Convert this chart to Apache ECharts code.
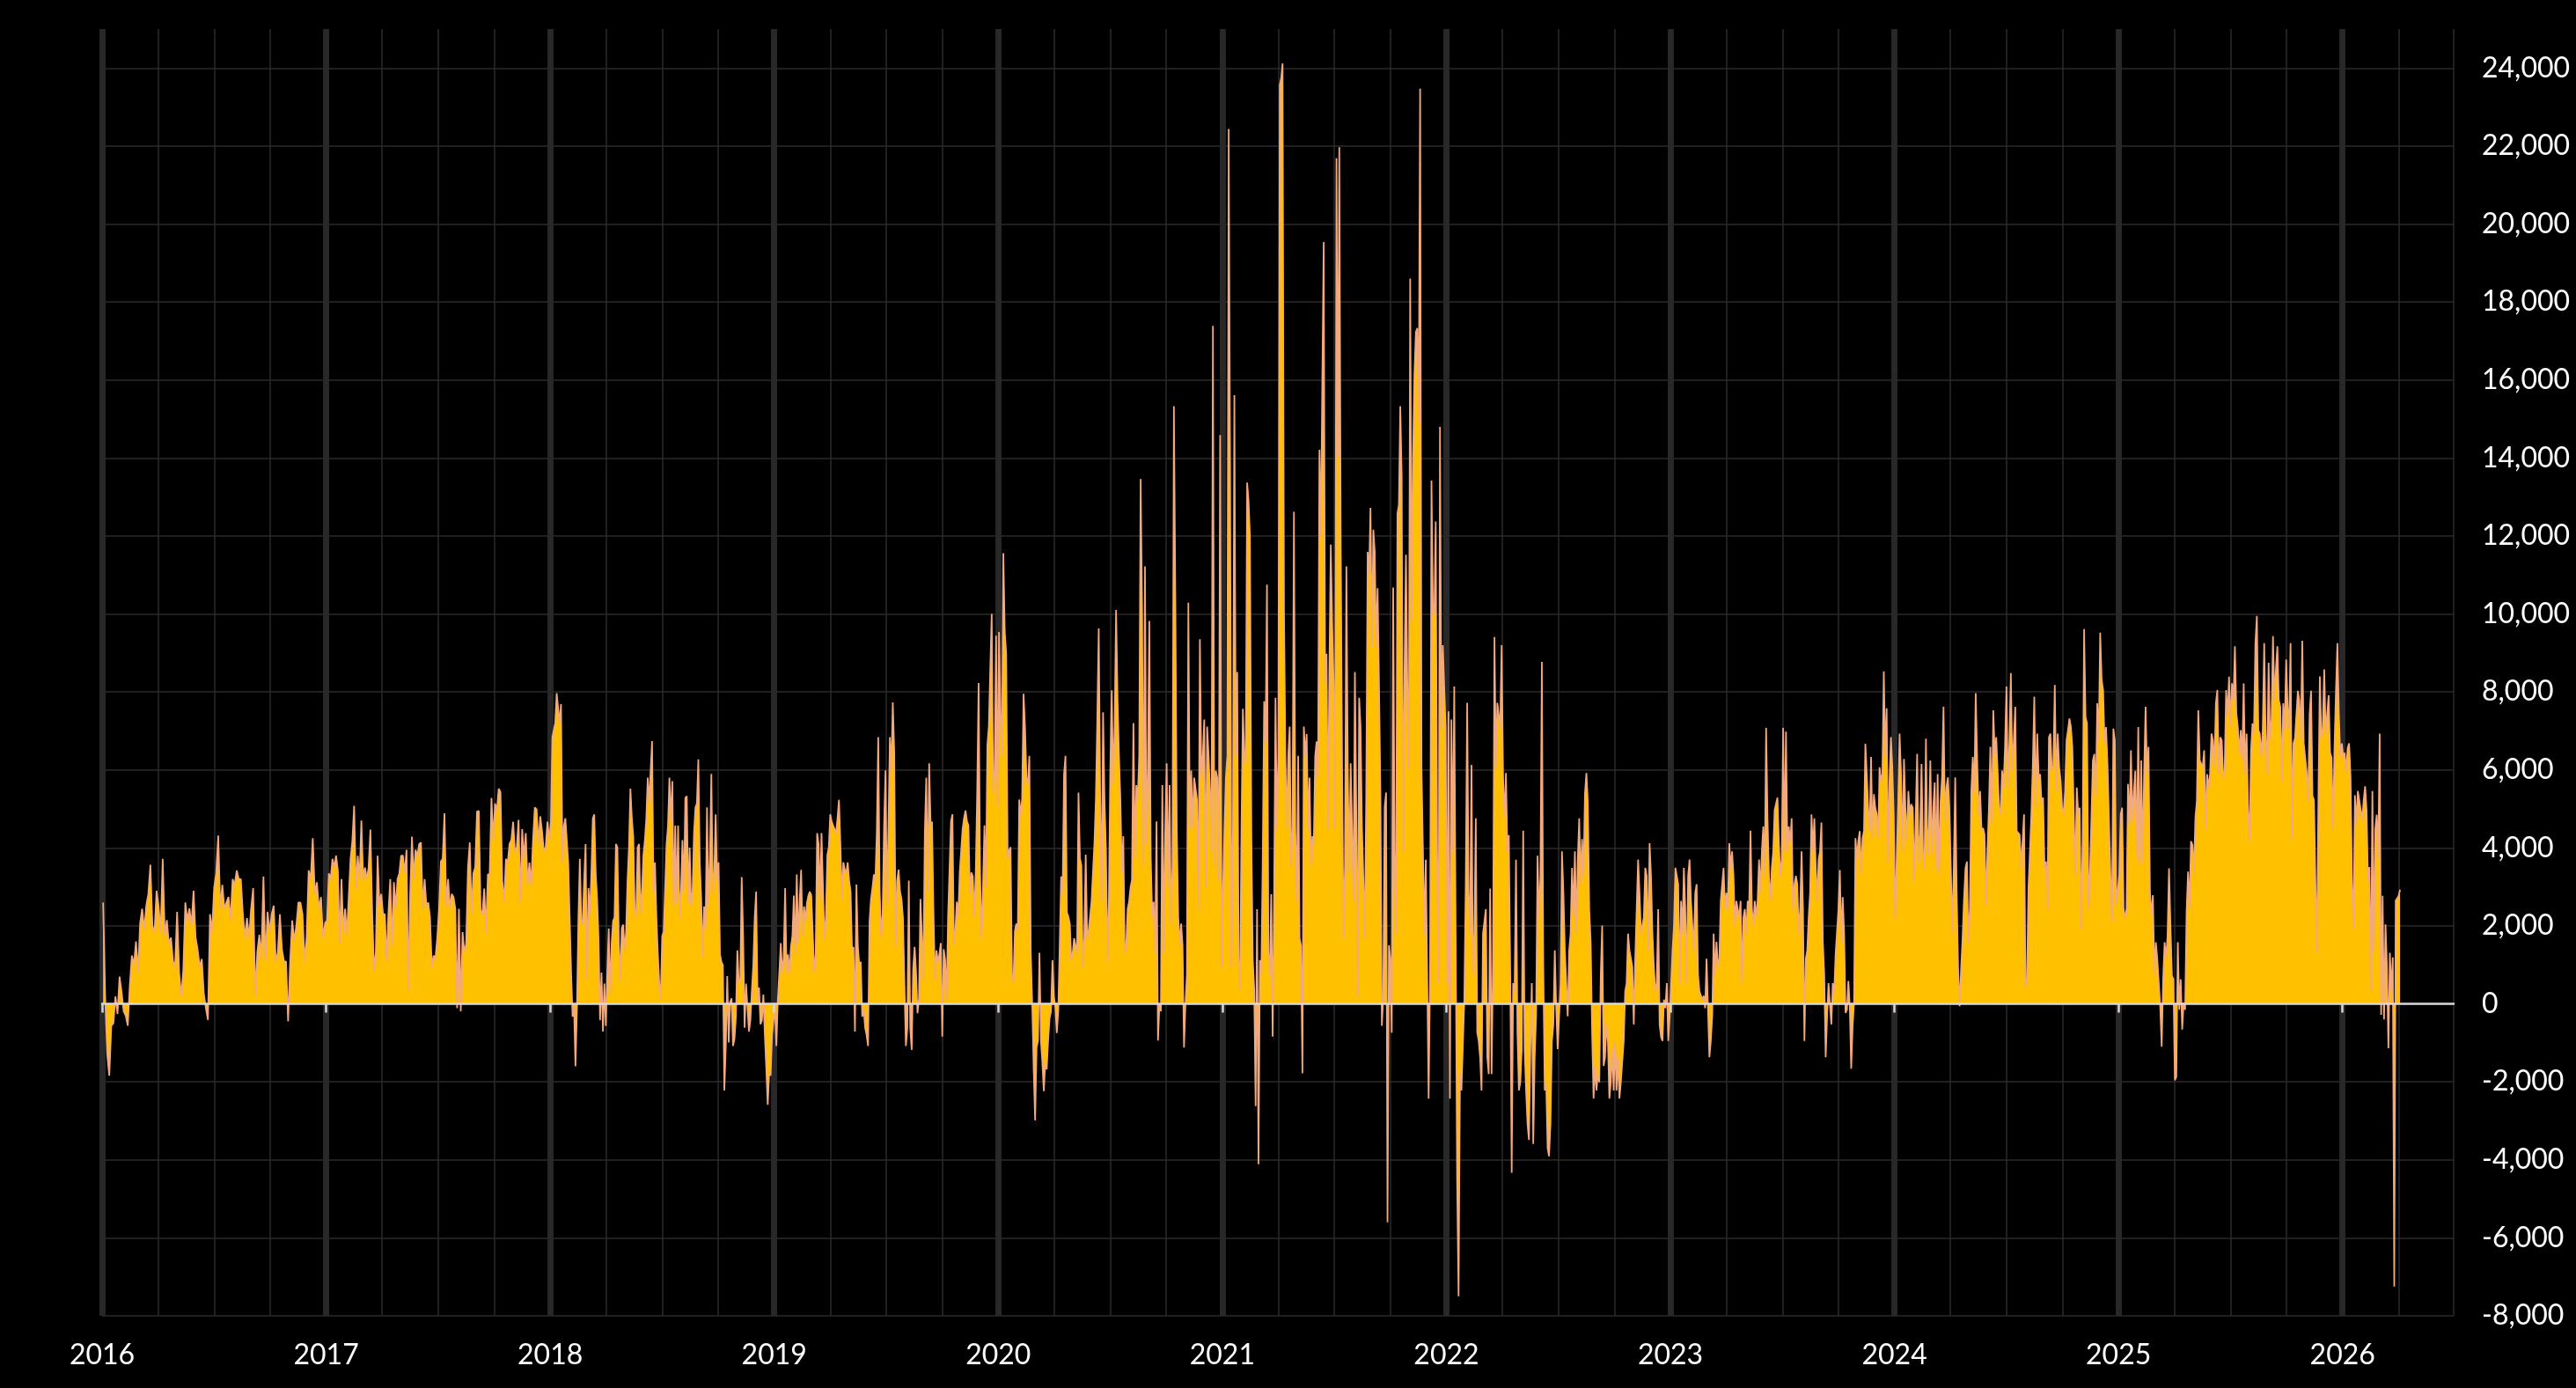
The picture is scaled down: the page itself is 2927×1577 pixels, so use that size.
<!DOCTYPE html>
<html><head><meta charset="utf-8">
<script src="https://cdn.jsdelivr.net/npm/echarts@6/dist/echarts.min.js"></script>
<style>html,body{margin:0;padding:0;background:#000;}#c{width:2927px;height:1577px;}</style>
</head><body><div id="c"></div>
<script>
// Values, one array per calendar year (evenly spread inside its span)
const v2016 = [2600,190,-1300,-1840,-560,-500,190,-260,700,300,-190,-300,-560,490,1240,1000,1600,800,2070,2440,1900,2520,2820,3570,2000,1840,2900,2500,1840,3720,1750,2150,1540,1700,1100,950,2360,800,190,860,2600,2140,2450,2000,2900,1700,1390,950,1150,260,-110,-410,2300,1840,2970,3350,4320,2440,3050,2440,2600,2740,2140,3200,3050,3420,3200,3200,2300,1690,2200,1690,2440,2970,190,1320,1770,1170,3270,1090,2360,1840,2300,2520,1090,1320,2300,1400,1090,1090,-450,1090,2140,1620,2000,2600,2600,2300,1090,1690,3420,3200,4250,2820,3120,2440,2740,1690,2070];
const v2017 = [2140,3350,3200,3720,3500,3800,3420,1540,3200,1840,2440,1770,2740,3720,4170,5080,2970,3800,3200,4700,3200,3500,3200,3500,4470,2360,860,1320,3800,2520,2820,2300,2300,1090,2360,3200,1470,3120,2440,3200,3350,3800,3800,3350,3950,340,2820,4290,3200,3950,3800,4100,4140,2440,3200,2520,2600,2220,940,1240,1170,1690,2440,3650,3720,4890,2520,3200,2440,2820,2740,2440,-110,2440,-190,1840,1320,1540,3500,4140,2300,3350,3500,4930,4950,2400,2300,2960,1840,3320,3320,5280,4200,5140,4950,5520,5430,3160,2590,3720,3620,4100,4200,4670,3910,4010,4720,2590,4480,3720,4380,3060,3620,3060,4200,5040,4990,4100,4810,4430,3910,4010,4670,4200];
const v2018 = [4670,6840,6880,7210,7970,7590,7210,7690,3630,4570,4760,4200,3630,3630,800,-330,-50,-1600,-140,2120,3720,2120,2030,3160,4100,610,2970,2310,3350,4760,4860,3350,2690,1650,-420,800,-710,520,-570,800,1930,240,1560,2120,2220,4100,4010,1560,610,1930,2030,1370,1840,3160,4010,5520,4760,4290,2400,2220,4010,4100,2310,2880,3820,4200,4760,5800,5140,5990,6740,2880,3630,2220,1270,520,140,1740,1840,2970,4100,4570,5800,4670,5710,2500,4570,2590,4570,2220,2880,4200,2880,5280,5330,2590,4010,2500,2880,4380,5040,5140,6270,3630,2690,1180,2500,1930,5040,2500,3720,5900,2880,3350,4860,3160,3630,1270,1080,990,-2220,-1080,710,-990,50,140,-1080,-900,-330,1370,520,610,3250,1740,-610,520,520,-710,-420,330,990,2220,2880,50,420,-520,-420,240,-800,-1650,-2590,-1740,-1840,-800,-420];
const v2019 = [-140,-1080,140,800,1560,800,1180,2970,800,1270,800,1460,1740,2780,1270,3320,1560,2670,3440,1740,2500,2120,2590,2780,2880,2780,2780,800,1270,4380,4100,2670,4380,4380,1650,2210,3820,4010,4860,4670,4570,4480,4380,4760,5230,4100,2690,3630,3440,3350,3630,3160,2880,1370,1460,-710,3060,1460,990,1080,-330,-140,-610,-800,-1080,2120,2690,2970,3320,3160,4380,6840,2880,1740,2310,4570,5990,2500,4480,6840,5990,7730,6460,1460,3160,3440,2880,2690,2210,520,-1080,-610,3160,-610,-1180,900,1460,800,-240,140,2690,1740,610,4380,5800,2880,6170,4570,4670,2310,610,1370,1080,1270,1560,-840,1400,1120,90,2240,2240,4680,4860,1500,1870,2620,2240,3370,3930,4490,4770,4960,4680,4580,2810,3370,3270,2240,3370,5420,8230,3370,1680,2990,4580,2990,6640,7110,8600,10000,5420,5990,9440,5050];
const v2020 = [9540,7480,6360,11560,9540,8980,3740,3930,4020,750,560,1870,2060,1870,5240,4860,5240,7950,7110,5800,5610,6360,1310,0,-1680,-2990,-1120,-940,1310,-940,-1500,-2240,-1500,-1680,-940,-370,-190,1120,190,-90,-750,-190,1500,3270,2810,5890,6360,2340,2240,2060,1120,1310,1680,1680,1310,5420,3740,3550,940,1680,3830,1680,1870,2240,2620,3370,4110,5240,7290,9630,5420,2620,7480,5240,3930,1120,2620,5980,8040,5610,7110,10100,7850,6360,5240,3370,4300,1310,1500,2430,2620,2990,3180,7200,3740,5610,5240,6360,13460,10100,3550,11220,4110,5980,9820,3740,2240,2620,1310,4680,-940,0,-190,5610,1310,4490,6170,2990,5610,2060,3550,15330,10470,4490,2240,1500,2060,1500,-1120,0,750,10290,4490,5980,4490,5800,5800,5240,2430,9350,5800,6360,7290,2990,7110,6360,5420,3930,17390,3550,5980,5800,3180,14590,940];
const v2021 = [2990,4490,5800,6360,22440,13460,940,4490,15610,6360,8510,1120,370,4490,7570,6360,6170,13370,12900,11970,4300,1120,370,-2620,2430,-4110,1120,750,3740,7760,6730,10750,1310,750,2810,-840,2620,7850,4490,6360,23560,23750,24120,10100,6360,4490,6360,7110,3550,4490,12620,4490,2620,6360,1680,1500,-1780,7110,6360,6920,4490,5800,3550,4300,4110,6360,6730,5800,14210,11970,15900,19540,8230,8980,4490,8600,11780,9720,8230,4490,21690,14030,21970,11970,5980,1680,3550,11220,5980,3370,6170,4490,2620,8510,4860,190,7850,7110,4490,3180,1680,5420,11590,11030,12720,9160,12160,11590,9160,10660,8230,5420,-560,190,5050,5420,-5600,1500,1160,-740,10680,3910,1800,12580,12790,15330,13530,3910,8560,11520,8140,6030,18600,9830,14060,16170,17230,17330,14900,23470,6030,3910,1800,3700,740,-2430,740,13420,10250,9940,12370,3910,530,14800,7080,9200,8140,7080];
const v2022 = [530,7500,-2430,7290,3910,8140,1800,-4550,-7500,-1800,-2220,-2220,110,3070,7720,2850,1800,6130,740,1800,4760,-740,-950,-1370,-2220,1800,1800,2430,-1370,-1800,2960,-1800,1160,9410,6030,7720,7720,7080,9200,5810,4760,5920,3910,4330,740,-4330,530,320,3700,-740,-2220,-2010,-1160,4440,-1160,-2220,-3070,-3490,-1160,530,-3590,-1370,-320,3800,2220,3280,8770,950,-2220,-2010,-3700,-3910,-3070,-950,-530,1370,-110,-1160,-320,530,3910,2850,1370,530,-320,1370,1800,3490,2220,3910,1800,3700,4760,3070,4230,3280,5390,5920,5180,2430,1590,-740,-2430,-1590,-2220,-1800,-2010,740,2010,-1590,-1370,-530,-950,-2430,-2010,-1160,-2220,-950,-2220,-1370,-2430,-2010,-2010,-950,320,530,1800,1370,1160,950,-530,1160,1160,3700,2850,1800,2010,2220,3490,3280,1370,4120,3280,1800,950,320,530,2430,-530,-850,-950,110,-110,530,-950,-320];
const v2023 = [530,1370,2010,3490,3280,3070,530,2640,1800,3490,2430,530,3280,3700,2640,2640,1370,2850,3070,740,320,320,110,210,-110,1160,1160,-1370,-950,-320,1800,740,1590,950,1160,2640,3070,3490,2430,2850,2430,4120,3490,3910,3280,2010,2640,2430,2220,2640,530,2220,2430,1800,2640,2430,4440,2430,2010,2640,2220,2640,3700,2850,3910,4550,3280,7080,4760,3280,2640,3490,3910,4970,4970,5290,4120,3280,3700,7080,3910,6980,3910,4550,4120,4760,2430,3070,3280,3070,1800,2430,3910,2430,-950,1160,1370,2220,2850,4860,3910,4760,3490,2640,3700,3910,4650,1590,740,-1370,-320,530,530,-530,530,280,1280,1320,2440,3430,1580,2740,1840,-230,-150,590,-60,-1660,-580,30,4250,3740,4170,4430,3310,4250,4430,6670,6630,5030,4430,6330,4250,5380,5030,4860,4250,6070,5720,5890,8530,6330,7580,3650,5720,6840,6070,4860];
const v2024 = [2180,3650,5120,6930,5890,3910,6280,5030,4170,5460,4860,5120,5030,3130,4770,6410,3650,4340,6150,3910,3480,6800,3820,4510,6240,3820,5030,5680,3480,5890,3310,5200,5810,7620,4690,5550,5810,5030,3480,1840,3480,5810,2870,890,-60,890,1670,2700,3480,3650,1580,2440,5460,6330,5380,7970,6240,4860,5460,4430,4510,4340,2530,3910,5030,6590,4600,7530,6410,6840,6840,5030,4860,5980,5550,6590,8140,5550,6760,8480,5980,6760,7620,4430,4430,4340,3480,3480,4860,540,460,2960,3000,4860,6150,7880,5030,6930,5810,5890,5120,5290,3480,3650,2440,6840,6930,5980,6110,8180,5460,6930,6070,5720,5030,4860,5460,6760,7020,7320,7100,6580,4860,3310,5550,4860,5030,1920,4170,9610,7360,7190,2440,3390,4770,6240,6410,5290,7710,6760,9520,8310,8050,6670,7100,6150,6150,3310,2100,7060,6760,2530,2530];
const v2025 = [3310,4860,5030,2440,2180,2440,5640,4600,6500,4690,5460,5980,3740,7100,3560,6240,3650,5890,7620,5890,6590,2870,2270,2790,720,1580,1150,540,-60,-1100,630,1580,1150,1750,3480,2010,720,630,-1960,-1870,1580,-150,630,-660,30,-150,2360,3390,2440,4170,4080,3310,4770,5200,7530,6240,6240,6070,6500,4510,5890,5550,5890,6930,6760,6070,7710,8050,5890,6840,6760,5810,5980,8050,7360,8390,7100,8220,7790,9170,7450,7100,6410,7020,6240,8220,5890,6930,5030,4170,6500,7190,6930,9250,9950,7020,6930,6330,7020,9250,6930,5890,8750,6760,7280,9430,7790,8570,9170,7790,7620,5720,7710,7020,8830,7620,7050,9250,4240,6680,6810,7420,8030,7780,6810,9310,6680,6680,5950,5220,7420,8030,5340,5220,3140,1310,5220,8400,6810,7050,8580,6930,7420,7910,6440,6320,4480,6560,8030,9250,7420,6320,6680];
const v2026 = [6330,6440,5950,6560,6680,5830,3140,1920,5350,4610,5460,5220,4970,4730,5220,5580,4970,3140,3510,330,5460,1310,4490,4850,3750,6930,-280,2770,-400,2040,940,-1140,1310,330,1190,-7250,2650,2650,2770,2930];

// Decimal-year span each array covers
const yearSpans = [[2016,2017],[2017,2018],[2018,2019],[2019,2020],[2020,2021],[2021,2022],[2022,2023],[2023,2024],[2024,2025],[2025,2026],[2026,2026.26]];
const yearValues = [v2016,v2017,v2018,v2019,v2020,v2021,v2022,v2023,v2024,v2025,v2026];
const yearLabels = ['2016','2017','2018','2019','2020','2021','2022','2023','2024','2025','2026'];
const yearTickValues = [2016,2017,2018,2019,2020,2021,2022,2023,2024,2025,2026];

const seriesData = [];
yearValues.forEach((arr, k) => {
  const [a, b] = yearSpans[k];
  const step = (b - a) / arr.length;
  arr.forEach((v, i) => seriesData.push([a + (i + 0.5) * step, v]));
});

const X_MIN = 2016, X_MAX = 2026.496;
const chart = echarts.init(document.getElementById('c'), null, {renderer: 'canvas'});
chart.setOption({
  backgroundColor: '#000000',
  animation: false,
  grid: {left: 116, right: 139, top: 33, bottom: 82, containLabel: false, outerBoundsMode: 'none'},
  xAxis: [
    {
      type: 'value', min: X_MIN, max: X_MAX, interval: 1, position: 'bottom',
      axisLine: {show: false, onZero: false}, axisTick: {show: false},
      axisLabel: {show: true, color: '#ffffff', fontFamily: 'Lato', fontSize: 32, margin: 29, showMaxLabel: false,
        formatter: v => (Number.isInteger(v) ? yearLabels[v - 2016] : '')},
      splitLine: {show: true, showMaxLine: false, lineStyle: {color: '#272727', width: 7}}
    },
    {
      type: 'value', min: X_MIN, max: X_MAX, interval: 0.25, position: 'bottom',
      axisLine: {show: false, onZero: false}, axisTick: {show: false}, axisLabel: {show: false},
      splitLine: {show: true, lineStyle: {color: '#2b2b2b', width: 1.5}}
    },
    {
      type: 'value', min: X_MIN, max: X_MAX, interval: 1, position: 'bottom', z: 10,
      axisLine: {show: true, onZero: true, lineStyle: {color: '#d8d8d8', width: 2.5}},
      axisTick: {show: true, length: 10, customValues: yearTickValues, lineStyle: {color: '#d8d8d8', width: 2.5}},
      axisLabel: {show: false}, splitLine: {show: false}
    }
  ],
  yAxis: {
    type: 'value', min: -8000, max: 25000, interval: 2000, position: 'right',
    axisLine: {show: false}, axisTick: {show: false},
    axisLabel: {color: '#ffffff', fontFamily: 'Lato', fontSize: 32, margin: 32, showMaxLabel: false,
      formatter: v => v.toLocaleString('en-US')},
    splitLine: {show: true, showMaxLine: false, lineStyle: {color: '#2b2b2b', width: 1.5}}
  },
  series: [{
    type: 'line', xAxisIndex: 0, data: seriesData, showSymbol: false, symbol: 'none',
    sampling: 'none', z: 3,
    lineStyle: {color: '#F2A97E', width: 1.8},
    areaStyle: {color: '#FFC000', opacity: 1}
  }]
});
</script></body></html>
